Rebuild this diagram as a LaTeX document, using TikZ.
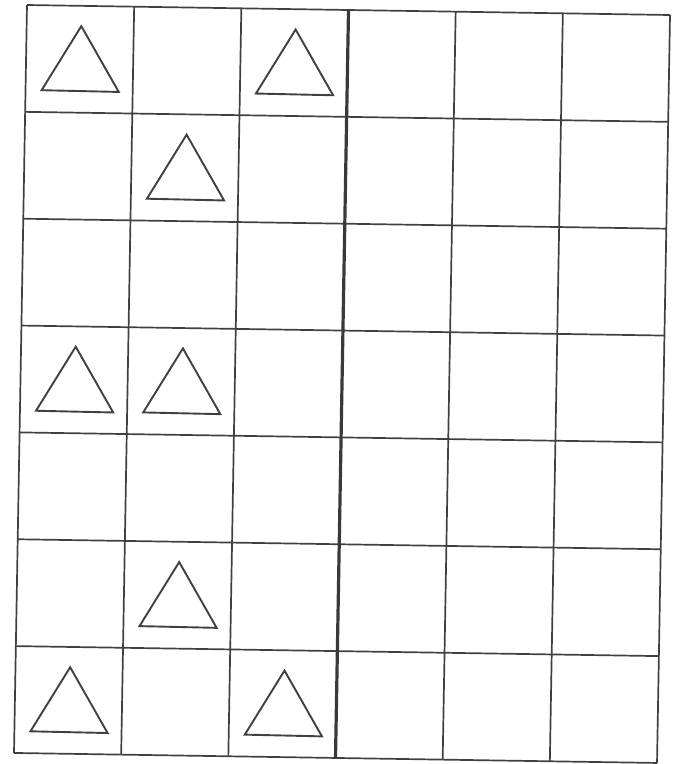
\documentclass[tikz,border=0pt]{standalone}
\begin{document}
\begin{tikzpicture}[x=1pt,y=1pt]
\definecolor{ink}{rgb}{0.25,0.25,0.25}
\tikzset{gridline/.style={draw=ink,line width=1.7pt},
         midline/.style={draw=ink!90!black,line width=3.2pt},
         tri/.style={draw=ink,line width=1.9pt,line join=miter}}
\useasboundingbox (0,0) rectangle (674,-764);
\begin{scope}[shift={(27,-5)},x={(107.17pt,-1.667pt)},y={(-1.857pt,-106.85pt)}]
  % horizontal lines
  \foreach \r in {0,...,7} \draw[gridline] (0,\r) -- (6,\r);
  % vertical lines
  \foreach \c in {0,1,2,4,5,6} \draw[gridline] (\c,0) -- (\c,7);
  \draw[midline] (3,0) -- (3,7);
  % triangles
  \foreach \c/\r in {0/0,2/0,1/1,0/3,1/3,1/5,0/6,2/6}
    \draw[tri] (\c+0.51,\r+0.19) -- (\c+0.15,\r+0.795) -- (\c+0.87,\r+0.80) -- cycle;
\end{scope}
\end{tikzpicture}
\end{document}
